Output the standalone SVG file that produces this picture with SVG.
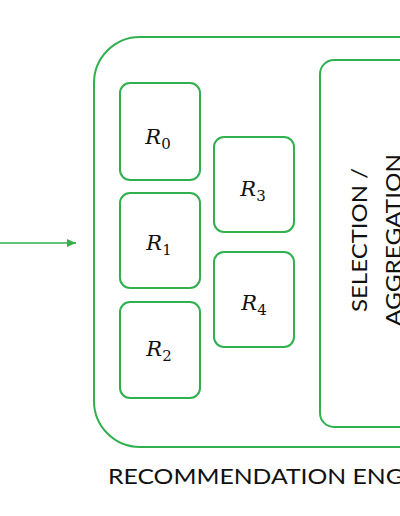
<svg xmlns="http://www.w3.org/2000/svg" width="400" height="516" viewBox="0 0 400 516">
<style>
.box{fill:none;stroke:#31b04f;stroke-width:2}
.r{font-family:"DejaVu Serif","Liberation Serif",serif;font-style:italic;font-size:21px;fill:#111;text-anchor:middle}
.sub{font-size:15px;font-style:normal}
.cap{font-family:Lato,"Open Sans",sans-serif;font-size:21px;fill:#111}
</style>
<defs>
<marker id="ah" markerWidth="10" markerHeight="10" refX="9" refY="4" orient="auto" markerUnits="userSpaceOnUse">
<path d="M0,0 L9,4 L0,8 Z" fill="#31b04f"/>
</marker>
</defs>
<rect width="400" height="516" fill="#fff"/>
<g id="connectors">
<line x1="0" y1="243" x2="76" y2="243" stroke="#31b04f" stroke-width="1.5" marker-end="url(#ah)"/>
</g>
<g id="engine">
<rect class="box" x="94" y="37" width="360" height="410" rx="46"/>
<text class="cap" x="108" y="484" font-size="22" textLength="336" lengthAdjust="spacingAndGlyphs">RECOMMENDATION ENGINE</text>
</g>
<g id="selection">
<rect class="box" x="320" y="60" width="120" height="367" rx="14"/>
<text class="cap" transform="translate(367,240) rotate(-90)"><tspan x="-72" y="0" textLength="144" lengthAdjust="spacingAndGlyphs">SELECTION /</tspan><tspan x="-86" y="34" textLength="172" lengthAdjust="spacingAndGlyphs">AGGREGATION</tspan></text>
</g>
<g id="r0">
<rect class="box" x="120" y="83" width="80" height="97" rx="10"/>
<text class="r" x="158" y="144">R<tspan class="sub" dy="5">0</tspan></text>
</g>
<g id="r1">
<rect class="box" x="120" y="193" width="80" height="95" rx="10"/>
<text class="r" x="159" y="250">R<tspan class="sub" dy="5">1</tspan></text>
</g>
<g id="r2">
<rect class="box" x="120" y="302" width="80" height="96" rx="10"/>
<text class="r" x="159" y="356">R<tspan class="sub" dy="5">2</tspan></text>
</g>
<g id="r3">
<rect class="box" x="214" y="137" width="80" height="95" rx="10"/>
<text class="r" x="253" y="196">R<tspan class="sub" dy="5">3</tspan></text>
</g>
<g id="r4">
<rect class="box" x="214" y="252" width="80" height="95" rx="10"/>
<text class="r" x="254" y="310">R<tspan class="sub" dy="5">4</tspan></text>
</g>
</svg>
